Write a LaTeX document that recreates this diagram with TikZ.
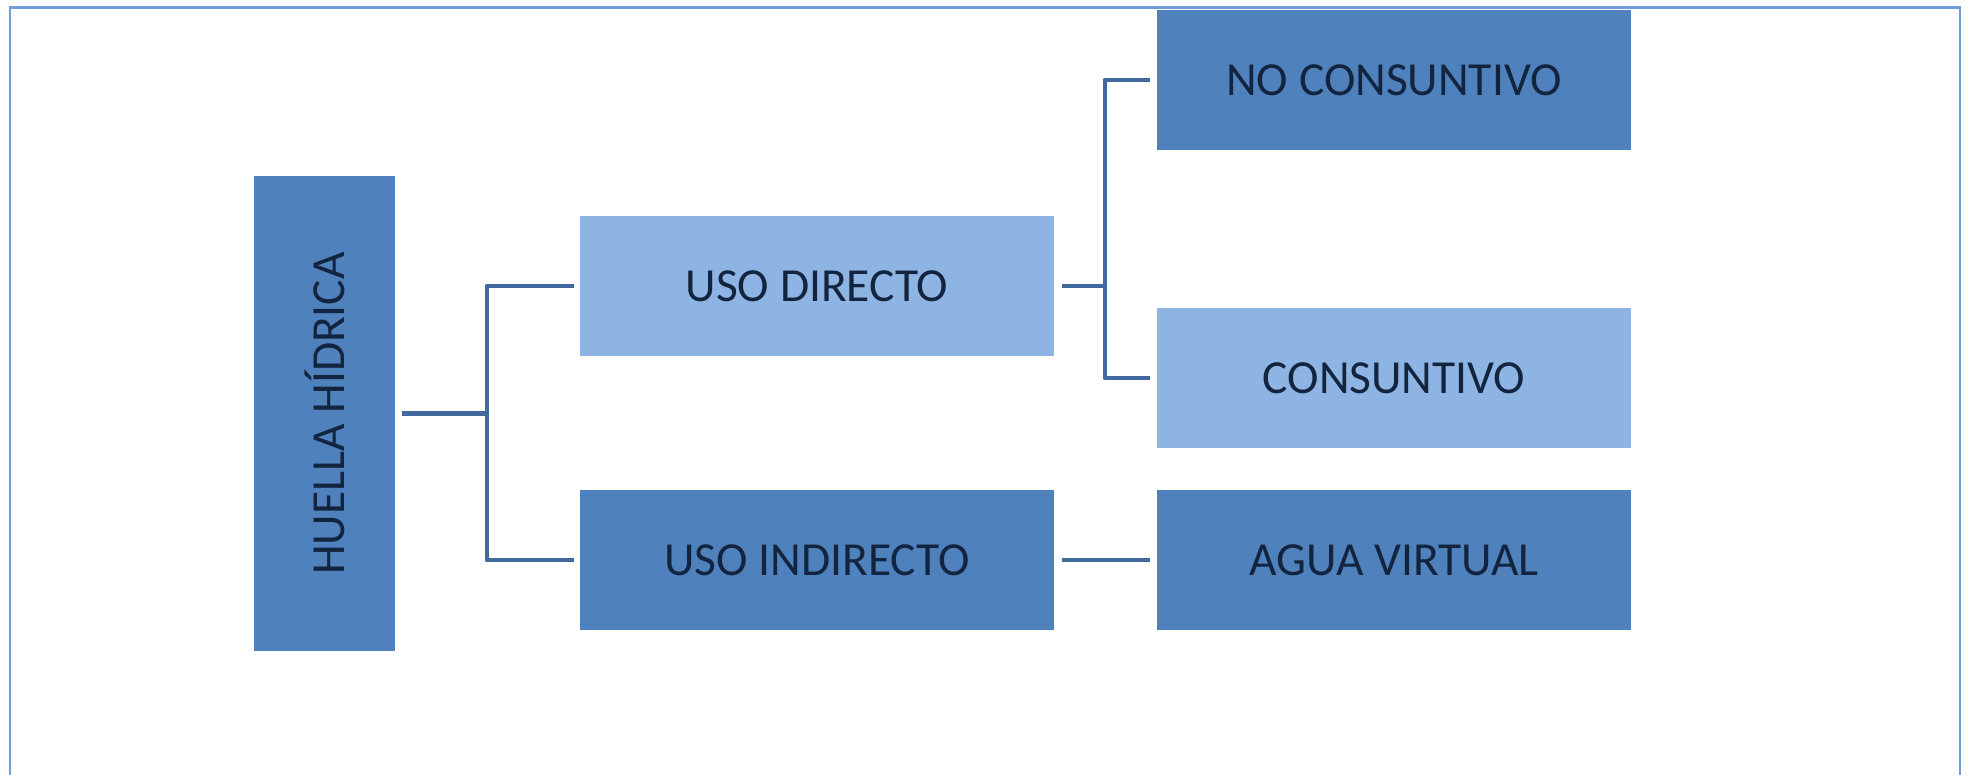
\documentclass[tikz,border=0pt]{standalone}
\usepackage{fontspec}
\setmainfont{Carlito}
\definecolor{darkbox}{HTML}{4F81BD}
\definecolor{lightbox}{HTML}{8EB4E3}
\definecolor{linkblue}{HTML}{41699E}
\definecolor{frameblue}{HTML}{6F9FDA}
\definecolor{navytext}{HTML}{13243F}
\tikzset{
  box/.style={inner sep=0pt, text=navytext, font=\fontsize{13.5}{16}\selectfont},
  darkfill/.style={box, fill=darkbox},
  lightfill/.style={box, fill=lightbox},
  link/.style={linkblue, line width=1.4pt, line join=round}
}
\begin{document}
\begin{tikzpicture}

\useasboundingbox (0,0) rectangle (19.72,-7.75);

% frame, open at the bottom
\draw[frameblue, line width=0.8pt] (0.10,-7.75) -- (0.10,-0.075) -- (19.60,-0.075) -- (19.60,-7.75);

% left box
\node (huella) at (3.245,-4.135) [darkfill, minimum width=1.41cm, minimum height=4.75cm] {\rotatebox{90}{HUELLA HÍDRICA}};

% middle column
\node (directo) at (8.17,-2.86) [lightfill, minimum width=4.74cm, minimum height=1.40cm] {USO DIRECTO};
\node (indirecto) at (8.17,-5.60) [darkfill, minimum width=4.74cm, minimum height=1.40cm] {USO INDIRECTO};

% right column
\node (noconsu) at (13.94,-0.80) [darkfill, minimum width=4.74cm, minimum height=1.40cm] {NO CONSUNTIVO};
\node (consu) at (13.94,-3.78) [lightfill, minimum width=4.74cm, minimum height=1.40cm] {CONSUNTIVO};
\node (agua) at (13.94,-5.60) [darkfill, minimum width=4.74cm, minimum height=1.40cm] {AGUA VIRTUAL};

% first fork
\coordinate (hubA) at (4.87,-4.135);
\draw[link] ([xshift=0.06cm]huella.east) -- (hubA);
\draw[link] ([xshift=-0.05cm]directo.west) -| (hubA) |- ([xshift=-0.05cm]indirecto.west);

% second fork
\coordinate (hubB) at (11.05,-2.86);
\draw[link] ([xshift=0.07cm]directo.east) -- (hubB);
\draw[link] ([xshift=-0.06cm]noconsu.west) -| (hubB) |- ([xshift=-0.06cm]consu.west);

% straight link
\draw[link] ([xshift=0.07cm]indirecto.east) -- ([xshift=-0.06cm]agua.west);

\end{tikzpicture}
\end{document}
